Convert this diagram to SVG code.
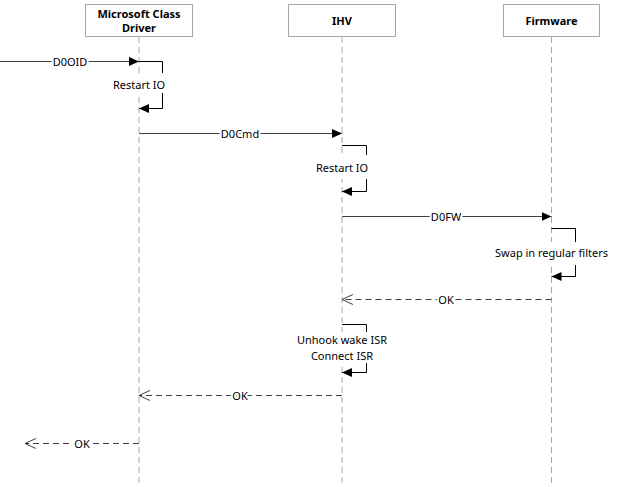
<svg xmlns="http://www.w3.org/2000/svg" width="618" height="487" viewBox="0 0 618 487">
<style>
.hdr{fill:#fff;stroke:#a6a6a6;stroke-width:1}
.ht{font-family:"Noto Sans","Open Sans",sans-serif;font-size:11px;font-weight:bold;fill:#000;text-anchor:middle}
.life{stroke:#a6a6a6;stroke-width:1;stroke-dasharray:6,4;fill:none}
.msg{stroke:#404040;stroke-width:1;fill:none}
.ret{stroke:#404040;stroke-width:1;fill:none;stroke-dasharray:6,4}
.self{stroke:#000;stroke-width:1;fill:none}
.lb{font-family:"Noto Sans","Open Sans",sans-serif;font-size:11px;fill:#000;text-anchor:middle}
.onl{paint-order:stroke;stroke:#fff;stroke-width:4px;stroke-linejoin:round}
.bg{fill:#fff}
</style>
<defs>
<marker id="fa" markerWidth="10" markerHeight="10" refX="10" refY="5" orient="auto" markerUnits="userSpaceOnUse">
<path d="M0,0.5 L10,5 L0,9.5 Z" fill="#000"/>
</marker>
<marker id="oa" markerWidth="12" markerHeight="12" refX="11" refY="6" orient="auto" markerUnits="userSpaceOnUse">
<path d="M0,1 L11,6 L0,11" fill="none" stroke="#404040" stroke-width="1"/>
</marker>
</defs>
<rect width="618" height="487" fill="#fff"/>
<g id="lifelines">
<line class="life" x1="139" y1="37" x2="139" y2="487"/>
<line class="life" x1="342" y1="37" x2="342" y2="487"/>
<line class="life" x1="551.5" y1="37" x2="551.5" y2="487"/>
</g>
<g id="node-classdriver">
<rect class="hdr" x="85.5" y="4.5" width="107" height="32"/>
<text class="ht" x="139" y="18">Microsoft Class</text>
<text class="ht" x="139" y="32">Driver</text>
</g>
<g id="node-ihv">
<rect class="hdr" x="288.5" y="4.5" width="107" height="32"/>
<text class="ht" x="342" y="25">IHV</text>
</g>
<g id="node-firmware">
<rect class="hdr" x="503.5" y="4.5" width="96" height="32"/>
<text class="ht" x="551.5" y="25">Firmware</text>
</g>
<g id="connectors">
<line class="msg" x1="0" y1="61.5" x2="139" y2="61.5" marker-end="url(#fa)"/>
<text class="lb onl" x="70" y="65.5">D0OID</text>
<polyline class="self" points="139,61.5 162.5,61.5 162.5,108.5 139,108.5" marker-end="url(#fa)"/>
<rect class="bg" x="110" y="73" width="58" height="20"/>
<text class="lb" x="139" y="89">Restart IO</text>

<line class="msg" x1="139" y1="133.5" x2="342" y2="133.5" marker-end="url(#fa)"/>
<text class="lb onl" x="240" y="137.5">D0Cmd</text>
<polyline class="self" points="342,145.5 366.5,145.5 366.5,191.5 342,191.5" marker-end="url(#fa)"/>
<rect class="bg" x="313" y="155" width="58" height="24"/>
<text class="lb" x="342" y="172">Restart IO</text>

<line class="msg" x1="342" y1="216.5" x2="551.5" y2="216.5" marker-end="url(#fa)"/>
<text class="lb onl" x="446" y="220.5">D0FW</text>
<polyline class="self" points="551.5,228.5 575.5,228.5 575.5,276.5 551.5,276.5" marker-end="url(#fa)"/>
<rect class="bg" x="491" y="242" width="121" height="23"/>
<text class="lb" x="551.5" y="257">Swap in regular filters</text>

<line class="ret" x1="551.5" y1="299.5" x2="342" y2="299.5" marker-end="url(#oa)"/>
<text class="lb onl" x="446" y="303.5">OK</text>
<polyline class="self" points="342,324.5 366.5,324.5 366.5,372.5 342,372.5" marker-end="url(#fa)"/>
<rect class="bg" x="294" y="332" width="96" height="31"/>
<text class="lb" x="342" y="344">Unhook wake ISR</text>
<text class="lb" x="342" y="360">Connect ISR</text>

<line class="ret" x1="342" y1="395.5" x2="139" y2="395.5" marker-end="url(#oa)"/>
<text class="lb onl" x="240" y="399.5">OK</text>
<line class="ret" x1="139" y1="443.5" x2="25" y2="443.5" marker-end="url(#oa)"/>
<text class="lb onl" x="82" y="447.5">OK</text>
</g>
</svg>
